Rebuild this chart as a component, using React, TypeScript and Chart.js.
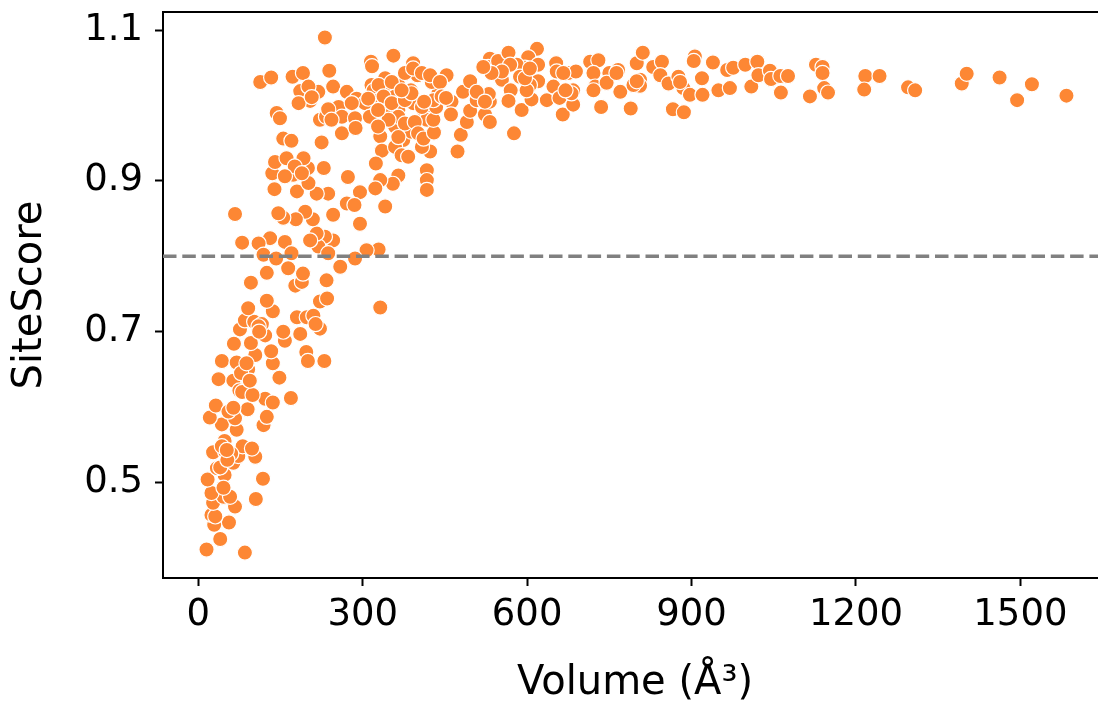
import React, { useEffect, useRef } from "react";
import { Chart, registerables } from "chart.js";

Chart.register(...registerables);

// ---- Data (Volume in Å³, SiteScore) ----
const VOL_LOW = [
  15, 85, 40, 29, 56, 24, 31, 67, 27, 46,
  58, 105, 24, 17, 48, 118, 34, 40, 64, 104,
  27, 49, 73, 81, 98, 48, 43, 60, 53, 119,
  43, 21, 70, 67, 32, 55, 90, 125, 122, 136,
  169, 37, 64, 87, 75, 80, 99, 148, 43, 70,
  91, 104, 136, 65, 96, 122, 76, 85, 102, 91,
  116, 133, 136, 125, 158, 155, 180, 198, 186, 210,
  222, 214, 197, 200, 230, 222, 235, 96, 177, 189,
  234, 110, 111, 78, 88, 94, 64, 52, 46, 332,
];
const SCORE_LOW = [
  0.411, 0.407, 0.425, 0.444, 0.447, 0.457, 0.455, 0.468, 0.473, 0.481,
  0.481, 0.478, 0.486, 0.504, 0.510, 0.505, 0.519, 0.520, 0.526, 0.534,
  0.540, 0.541, 0.535, 0.548, 0.545, 0.555, 0.548, 0.538, 0.530, 0.576,
  0.577, 0.586, 0.570, 0.585, 0.602, 0.594, 0.597, 0.587, 0.611, 0.606,
  0.612, 0.637, 0.635, 0.625, 0.622, 0.620, 0.616, 0.639, 0.661, 0.659,
  0.650, 0.669, 0.658, 0.684, 0.685, 0.695, 0.703, 0.715, 0.713, 0.731,
  0.710, 0.674, 0.727, 0.741, 0.688, 0.700, 0.719, 0.719, 0.697, 0.721,
  0.704, 0.710, 0.673, 0.661, 0.661, 0.740, 0.744, 0.765, 0.761, 0.766,
  0.768, 0.707, 0.700, 0.645, 0.658, 0.635, 0.599, 0.543, 0.493, 0.732,
];

const VOL_MID = [
  231, 113, 133, 172, 191, 239, 246, 186, 204, 219,
  183, 201, 207, 271, 289, 256, 262, 286, 304, 315,
  317, 316, 341, 356, 392, 400, 388, 341, 365, 359,
  320, 329, 341, 365, 411, 392, 262, 287, 313, 332,
  359, 374, 389, 417, 335, 359, 371, 383, 423, 417,
  417, 417, 324, 365, 355, 332, 323, 341, 273, 295,
  271, 285, 295, 329, 307, 286, 259, 246, 237, 216,
  229, 225, 222, 233, 237, 246, 231, 210, 219, 237,
  216, 204, 209, 195, 178, 155, 146, 158, 131, 110,
  80, 67, 119, 142, 170, 164, 125, 191, 139, 135,
  140, 161, 173, 180, 201, 200, 192, 176, 158, 189,
  155, 170, 143, 149, 462, 329, 338, 353, 377, 389,
  408, 365, 377, 395, 347, 328, 365, 401, 408, 328,
  310, 377, 392, 353, 371, 280, 243,
];
const SCORE_MID = [
  1.090, 1.031, 1.037, 1.038, 1.043, 1.046, 1.025, 1.019, 1.006, 1.018,
  1.003, 1.025, 1.011, 1.018, 1.009, 0.998, 0.985, 0.983, 1.003, 1.058,
  1.052, 1.027, 1.036, 1.066, 1.056, 1.040, 1.020, 1.020, 1.027, 1.012,
  1.020, 1.007, 0.992, 0.994, 0.994, 1.003, 0.963, 0.970, 0.985, 0.959,
  0.972, 0.954, 0.965, 0.981, 0.940, 0.945, 0.934, 0.932, 0.939, 0.914,
  0.901, 0.888, 0.923, 0.907, 0.896, 0.901, 0.890, 0.866, 0.905, 0.885,
  0.870, 0.868, 0.843, 0.809, 0.808, 0.797, 0.786, 0.855, 0.883, 0.883,
  0.917, 0.951, 0.981, 0.985, 0.995, 0.821, 0.826, 0.824, 0.813, 0.804,
  0.830, 0.821, 0.849, 0.859, 0.849, 0.851, 0.857, 0.819, 0.824, 0.817,
  0.818, 0.856, 0.802, 0.797, 0.804, 0.784, 0.778, 0.777, 0.889, 0.910,
  0.925, 0.930, 0.908, 0.886, 0.897, 0.917, 0.930, 0.919, 0.906, 0.910,
  0.956, 0.953, 0.990, 0.983, 1.005, 1.027, 1.012, 1.003, 1.007, 1.016,
  0.998, 0.985, 0.976, 0.978, 0.981, 0.972, 0.958, 0.963, 0.945, 0.994,
  1.009, 1.043, 1.049, 1.031, 1.020, 1.003, 0.981,
];

const VOL_HIGH = [
  411, 430, 473, 479, 576, 429, 461, 490, 496, 523,
  532, 434, 483, 508, 496, 438, 426, 453, 408, 532,
  530, 532, 529, 547, 566, 554, 570, 566, 590, 608,
  618, 602, 620, 596, 581, 587, 620, 605, 599, 636,
  653, 654, 648, 659, 665, 684, 675, 689, 684, 715,
  730, 721, 724, 735, 750, 766, 745, 770, 789, 800,
  811, 806, 806, 830, 846, 843, 858, 866, 886, 876,
  885, 897, 906, 904, 919, 920, 939, 949, 965, 970,
  976, 998, 1009, 1020, 1022, 596, 605, 569, 554, 535,
  520, 666, 681, 670, 721, 763, 794, 800, 879, 423,
  441, 429, 412, 444, 452, 508, 523,
];
const SCORE_HIGH = [
  0.956, 0.964, 0.939, 0.961, 0.963, 0.981, 0.988, 0.978, 0.993, 0.988,
  0.978, 0.998, 1.018, 1.007, 1.032, 1.016, 1.031, 1.040, 1.043, 1.005,
  1.015, 1.062, 1.051, 1.059, 1.070, 1.034, 1.020, 1.006, 0.994, 1.008,
  1.075, 1.064, 1.054, 1.050, 1.054, 1.038, 1.032, 1.027, 1.020, 1.007,
  1.056, 1.045, 1.025, 1.010, 0.988, 1.001, 1.043, 1.045, 1.020, 1.058,
  1.060, 1.043, 1.025, 0.998, 1.043, 1.047, 1.030, 1.018, 0.996, 1.056,
  1.070, 1.034, 1.026, 1.051, 1.058, 1.040, 1.029, 0.995, 0.991, 1.038,
  1.023, 1.014, 1.065, 1.059, 1.036, 1.014, 1.057, 1.020, 1.047, 1.023,
  1.050, 1.054, 1.025, 1.058, 1.040, 1.036, 1.049, 1.054, 1.045, 1.043,
  1.051, 1.043, 1.016, 1.020, 1.020, 1.043, 1.027, 1.032, 1.031, 1.040,
  1.031, 1.007, 1.005, 1.012, 1.010, 1.018, 1.005,
];

const VOL_TAIL = [
  1043, 1045, 1062, 1076, 1063, 1116, 1127, 1139, 1139, 1142,
  1149, 1217, 1243, 1215, 1295, 1308, 1393, 1402, 1462, 1494,
  1521, 1584,
];
const SCORE_TAIL = [
  1.046, 1.035, 1.039, 1.039, 1.017, 1.012, 1.054, 1.051, 1.043, 1.023,
  1.017, 1.039, 1.039, 1.021, 1.024, 1.020, 1.029, 1.042, 1.037, 1.007,
  1.028, 1.013,
];

const X_TICKS = [0, 300, 600, 900, 1200, 1500];
const Y_TICKS = [0.5, 0.7, 0.9, 1.1];
const X_LIMITS = [-64.4, 1658];
const Y_LIMITS = [0.3733, 1.1239];
const THRESHOLD = 0.8;

const X_LABEL = "Volume (Å³)";
const Y_LABEL = "SiteScore";

const FONT = "'DejaVu Sans', sans-serif";
const POINT_COLOR = "#fd8734";
const LINE_COLOR = "#808080";

const topSpine = {
  id: "topSpine",
  afterDatasetsDraw(chart: any) {
    const { ctx, chartArea } = chart;
    ctx.save();
    ctx.strokeStyle = "#000";
    ctx.lineWidth = 2;
    ctx.beginPath();
    ctx.moveTo(chartArea.left - 1, chartArea.top);
    ctx.lineTo(chartArea.right + 1, chartArea.top);
    ctx.stroke();
    ctx.restore();
  },
};

export default function App() {
  const canvasRef = useRef<HTMLCanvasElement | null>(null);

  useEffect(() => {
    const canvas = canvasRef.current;
    if (!canvas) return;
    const vols = [...VOL_LOW, ...VOL_MID, ...VOL_HIGH, ...VOL_TAIL];
    const scores = [...SCORE_LOW, ...SCORE_MID, ...SCORE_HIGH, ...SCORE_TAIL];
    const points = vols.map((v, i) => ({ x: v, y: scores[i] }));

    const chart = new Chart(canvas, {
      type: "scatter",
      data: {
        datasets: [
          {
            type: "scatter",
            data: points,
            backgroundColor: POINT_COLOR,
            borderColor: "#ffffff",
            borderWidth: 1.2,
            pointRadius: 7.6,
            pointHoverRadius: 7.6,
            order: 2,
          },
          {
            type: "line",
            data: [
              { x: X_LIMITS[0], y: THRESHOLD },
              { x: X_LIMITS[1], y: THRESHOLD },
            ],
            borderColor: LINE_COLOR,
            borderWidth: 3.6,
            borderDash: [13.5, 5.8],
            pointRadius: 0,
            fill: false,
            order: 1,
          } as any,
        ],
      },
      options: {
        responsive: false,
        animation: false,
        devicePixelRatio: 1,
        layout: { padding: { left: 0, top: 12, right: 13, bottom: 0 } },
        plugins: {
          legend: { display: false },
          tooltip: { enabled: false },
        },
        scales: {
          x: {
            type: "linear",
            min: X_LIMITS[0],
            max: X_LIMITS[1],
            afterBuildTicks: (scale: any) => {
              scale.ticks = X_TICKS.map((value) => ({ value }));
            },
            afterFit: (scale: any) => {
              scale.height = 126;
              scale.paddingLeft = 0;
              scale.paddingRight = 0;
              scale.paddingTop = 0;
              scale.paddingBottom = 0;
            },
            grid: {
              drawOnChartArea: false,
              drawTicks: true,
              tickLength: 8,
              tickWidth: 2,
              tickColor: "#000",
            },
            border: { display: true, color: "#000", width: 2 },
            ticks: {
              autoSkip: false,
              maxRotation: 0,
              padding: 7,
              color: "#000",
              font: { family: FONT, size: 37 },
              callback: (v: any) => String(v),
            },
            title: {
              display: true,
              text: X_LABEL,
              color: "#000",
              font: { family: FONT, size: 40, lineHeight: 1 },
              padding: { top: 0, bottom: 0.8 },
            },
          },
          y: {
            type: "linear",
            min: Y_LIMITS[0],
            max: Y_LIMITS[1],
            afterBuildTicks: (scale: any) => {
              scale.ticks = Y_TICKS.map((value) => ({ value }));
            },
            afterFit: (scale: any) => {
              scale.width = 163;
              scale.paddingLeft = 0;
              scale.paddingRight = 0;
              scale.paddingTop = 0;
              scale.paddingBottom = 0;
            },
            grid: {
              drawOnChartArea: false,
              drawTicks: true,
              tickLength: 8,
              tickWidth: 2,
              tickColor: "#000",
            },
            border: { display: true, color: "#000", width: 2 },
            ticks: {
              padding: 12,
              color: "#000",
              font: { family: FONT, size: 37 },
              callback: (v: any) => Number(v).toFixed(1),
            },
            title: {
              display: true,
              text: Y_LABEL,
              color: "#000",
              font: { family: FONT, size: 40, lineHeight: 1.2 },
              padding: { top: 7, bottom: 0 },
            },
          },
        },
      },
      plugins: [topSpine],
    });

    return () => chart.destroy();
  }, []);

  return (
    <div
      style={{
        position: "fixed",
        left: 0,
        top: 0,
        width: 1098,
        height: 704,
        overflow: "hidden",
        background: "#fff",
      }}
    >
      <canvas
        ref={canvasRef}
        width={1120}
        height={704}
        style={{ display: "block", width: 1120, height: 704 }}
      />
    </div>
  );
}
